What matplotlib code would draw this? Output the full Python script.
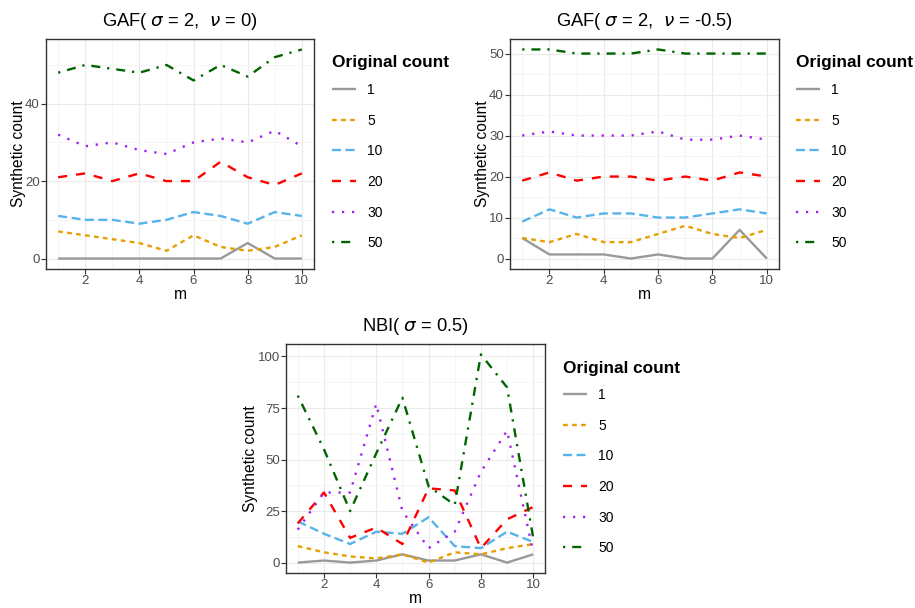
import matplotlib
matplotlib.use("Agg")
import matplotlib.pyplot as plt
import matplotlib.transforms as mtransforms
import numpy as np

plt.rcParams['font.family'] = ['Liberation Sans', 'DejaVu Sans']
plt.rcParams['lines.scale_dashes'] = False
plt.rcParams['mathtext.fontset'] = 'dejavusans'

m = list(range(1, 11))
counts = ["1", "5", "10", "20", "30", "50"]

gaf0 = {
    "1":  [0, 0, 0, 0, 0, 0, 0, 4, 0, 0],
    "5":  [7, 6, 5, 4, 2, 6, 3, 2, 3, 6],
    "10": [11, 10, 10, 9, 10, 12, 11, 9, 12, 11],
    "20": [21, 22, 20, 22, 20, 20, 25, 21, 19, 22],
    "30": [32, 29, 30, 28, 27, 30, 31, 30, 33, 29],
    "50": [48, 50, 49, 48, 50, 46, 50, 47, 52, 54],
}
gaf05 = {
    "1":  [5, 1, 1, 1, 0, 1, 0, 0, 7, 0],
    "5":  [5, 4, 6, 4, 4, 6, 8, 6, 5, 7],
    "10": [9, 12, 10, 11, 11, 10, 10, 11, 12, 11],
    "20": [19, 21, 19, 20, 20, 19, 20, 19, 21, 20],
    "30": [30, 31, 30, 30, 30, 31, 29, 29, 30, 29],
    "50": [51, 51, 50, 50, 50, 51, 50, 50, 50, 50],
}
nbi = {
    "1":  [0, 1, 0, 1, 4, 1, 1, 4, 0, 4],
    "5":  [8, 5, 3, 2, 4, 0, 5, 4, 7, 9],
    "10": [20, 14, 9, 15, 14, 22, 8, 7, 15, 10],
    "20": [19, 34, 12, 17, 9, 36, 35, 7, 21, 27],
    "30": [16, 34, 34, 77, 25, 7, 15, 44, 64, 5],
    "50": [81, 55, 25, 53, 80, 37, 28, 101, 85, 12],
}

colors = {"1": "#999999", "5": "#E69F00", "10": "#56B4E9",
          "20": "#FF0000", "30": "#A020F0", "50": "#006400"}
dashes = {"1": None, "5": (3.4, 3.1), "10": (6.5, 3.2), "20": (6.5, 6.5),
          "30": (1.6, 5.6), "50": (1.6, 5.0, 6.5, 5.0)}

W, H = 915, 608
fig = plt.figure(figsize=(W / 100, H / 100), dpi=100)


def px_axes(l, t, r, b):
    return fig.add_axes([l / W, 1 - b / H, (r - l) / W, (b - t) / H])


def draw_panel(ax, data, yticks, title, leg_x, leg_y, ylab_x):
    handles = []
    for c in counts:
        kw = dict(color=colors[c], lw=1.7, solid_capstyle='butt', dash_capstyle='butt')
        ln, = ax.plot(m, data[c], label=c, **kw)
        if dashes[c] is not None:
            ln.set_dashes(dashes[c])
        handles.append(ln)
    ymax = max(max(v) for v in data.values())
    ymin = min(min(v) for v in data.values())
    rng = ymax - ymin
    ax.set_xlim(1 - 0.45, 10 + 0.45)
    ax.set_ylim(ymin - 0.05 * rng, ymax + 0.05 * rng)
    ax.set_xticks([2, 4, 6, 8, 10])
    ax.set_xticks([1, 3, 5, 7, 9], minor=True)
    ax.set_yticks(yticks)
    minor = [(yticks[i] + yticks[i + 1]) / 2 for i in range(len(yticks) - 1)]
    minor.append(yticks[-1] + (yticks[1] - yticks[0]) / 2)
    ax.set_yticks([v for v in minor if v <= ymax + 0.05 * rng], minor=True)
    ax.grid(which='major', color='#EBEBEB', lw=0.8)
    ax.grid(which='minor', color='#F2F2F2', lw=0.5)
    ax.set_axisbelow(True)
    for s in ax.spines.values():
        s.set_color('#333333')
        s.set_linewidth(1.0)
    ax.tick_params(which='major', length=3.3, width=0.8, color='#333333',
                   labelsize=9.5, labelcolor='#4D4D4D', pad=1.2)
    ax.tick_params(which='minor', length=0)
    ax.set_xlabel('m', fontsize=11.2, labelpad=0)
    ax.set_ylabel('Synthetic count', fontsize=11.2)
    ax.yaxis.set_label_coords(ylab_x / W, 0.5,
                              transform=mtransforms.blended_transform_factory(
                                  fig.transFigure, ax.transAxes))
    ax.set_title(title, fontsize=13.2, pad=9.5)
    fig.text(leg_x / W, 1 - leg_y / H, 'Original count', fontsize=12.4,
             fontweight='bold', ha='left', va='center')
    ax.legend(handles=handles, loc='upper left',
              bbox_to_anchor=(leg_x / W, 1 - (leg_y + 20) / H),
              bbox_transform=fig.transFigure, frameon=False,
              fontsize=10, handlelength=1.75,
              handletextpad=0.8, labelspacing=1.2, borderpad=0,
              borderaxespad=0)


ax1 = px_axes(46, 39, 314, 269)
draw_panel(ax1, gaf0, [0, 20, 40], r'GAF( $\sigma$ = 2,  $\nu$ = 0)', 332, 63, 26)
ax2 = px_axes(510, 39, 779, 269)
draw_panel(ax2, gaf05, [0, 10, 20, 30, 40, 50], r'GAF( $\sigma$ = 2,  $\nu$ = -0.5)', 796, 63, 490)
ax3 = px_axes(286, 344, 545, 573)
draw_panel(ax3, nbi, [0, 25, 50, 75, 100], r'NBI( $\sigma$ = 0.5)', 563, 368, 258)

fig.savefig('out.png', dpi=100)
